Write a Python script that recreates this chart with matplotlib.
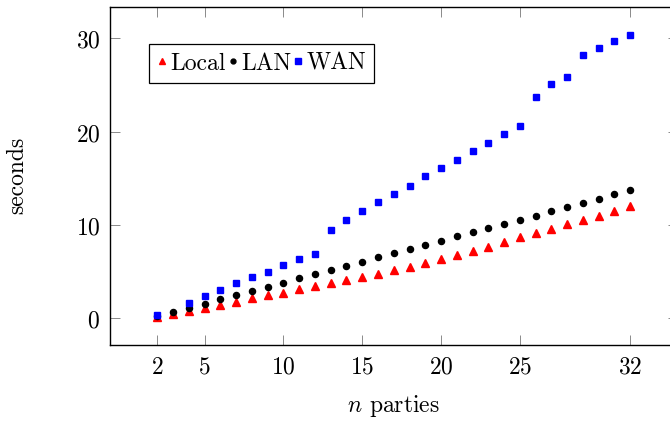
import matplotlib
matplotlib.use("Agg")
import matplotlib.pyplot as plt
import numpy as np

# number of parties
parties = list(range(2, 33))

local_secs = [0.18, 0.46, 0.75, 1.07, 1.43, 1.79, 2.15, 2.47, 2.75, 3.12,
              3.47, 3.76, 4.12, 4.47, 4.76, 5.19, 5.48, 5.91, 6.34, 6.77,
              7.24, 7.67, 8.20, 8.67, 9.14, 9.60, 10.10, 10.54, 11.00, 11.50,
              12.00]
lan_secs = [0.30, 0.71, 1.07, 1.57, 2.04, 2.47, 2.94, 3.40, 3.83, 4.30,
            4.73, 5.19, 5.66, 6.09, 6.56, 6.99, 7.42, 7.85, 8.31, 8.78,
            9.21, 9.68, 10.10, 10.57, 11.00, 11.46, 11.93, 12.37, 12.83, 13.29,
            13.72]
# no WAN run for 3 parties
wan_secs = [0.35, np.nan, 1.61, 2.43, 3.04, 3.76, 4.41, 5.01, 5.70, 6.34,
            6.91, 9.49, 10.50, 11.46, 12.43, 13.33, 14.19, 15.23, 16.09, 17.02,
            17.91, 18.82, 19.74, 20.60, 23.69, 25.12, 25.87, 28.24, 28.99, 29.71,
            30.35]

xticks = [2, 5, 10, 15, 20, 25, 32]
yticks = [0, 10, 20, 30]

plt.rcParams['mathtext.fontset'] = 'cm'
plt.rcParams['axes.unicode_minus'] = False


def main():
    fig = plt.figure(figsize=(6.7, 4.21), dpi=100)
    # right edge of the axis box lies just outside the picture (cropped)
    ax = fig.add_axes([110 / 670, 76 / 421, 567.5 / 670, 338.3 / 421])

    ax.plot(parties, local_secs, linestyle='none', marker='^', markersize=6,
            color='red', label='Local')
    ax.plot(parties, lan_secs, linestyle='none', marker='o', markersize=4.4,
            color='black', label='LAN')
    ax.plot(parties, wan_secs, linestyle='none', marker='s', markersize=4.6,
            color='blue', label='WAN')

    ax.set_xlim(-1, 35)
    ax.set_ylim(-2.85, 33.4)
    ax.set_xticks(xticks, labels=[f'${t}$' for t in xticks])
    ax.set_yticks(yticks, labels=[f'${t}$' for t in yticks])
    ax.tick_params(direction='in', length=7.2, width=0.6, color='#777777',
                   top=True, right=True, labelsize=17, pad=7)
    for sp in ax.spines.values():
        sp.set_linewidth(1.0)

    ax.set_xlabel('$n$ parties', family='cmr10', fontsize=17, labelpad=10)
    ax.set_ylabel('seconds', family='cmr10', fontsize=17, labelpad=34)

    leg = ax.legend(loc='upper left', bbox_to_anchor=(0.069, 0.889),
                    borderaxespad=0, ncol=3, fancybox=False, framealpha=1,
                    edgecolor='black', handlelength=0.4, handletextpad=0.15,
                    columnspacing=0.1, borderpad=0.35, markerscale=0.8,
                    prop={'family': 'cmr10', 'size': 17})
    leg.get_frame().set_linewidth(0.9)

    fig.savefig('out.png', dpi=100)


if __name__ == "__main__":
    main()
